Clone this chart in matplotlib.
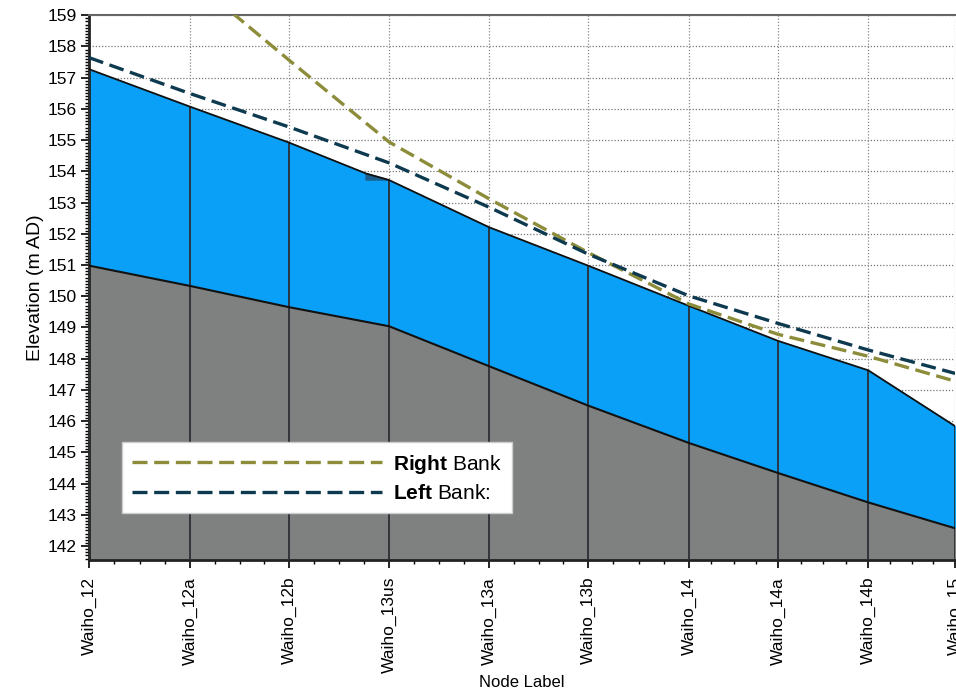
import numpy as np
import matplotlib.pyplot as plt
from matplotlib.ticker import MultipleLocator, FixedLocator

plt.rcParams['font.family'] = ['Liberation Sans', 'DejaVu Sans']
plt.rcParams['mathtext.fontset'] = 'custom'
plt.rcParams['mathtext.rm'] = 'Liberation Sans'
plt.rcParams['mathtext.bf'] = 'Liberation Sans:bold'

# node labels and chainage along the reach
nodes = ['Waiho_12', 'Waiho_12a', 'Waiho_12b', 'Waiho_13us', 'Waiho_13a',
         'Waiho_13b', 'Waiho_14', 'Waiho_14a', 'Waiho_14b', 'Waiho_15']
chainage = [0, 101, 200, 300, 400, 499, 600, 689, 779, 866]

# bed level (m AD)
bed = [150.98, 150.33, 149.65, 149.04, 147.76, 146.50, 145.30, 144.34, 143.40, 142.57]

# water surface (extra point just upstream of 13us structure)
ws_ch = [0, 101, 200, 277, 300, 400, 499, 600, 689, 779, 866]
ws = [157.27, 156.07, 154.92, 153.93, 153.72, 152.21, 150.98, 149.69, 148.57, 147.63, 145.84]

# banks
right_bank = [161.5, 160.2, 157.56, 154.94, 153.12, 151.40, 149.75, 148.78, 148.08, 147.28]
left_bank = [157.64, 156.49, 155.42, 154.27, 152.85, 151.35, 150.01, 149.13, 148.28, 147.53]

# small structure at 13us
struct_x = [277, 300, 277]
struct_y = [153.93, 153.72, 153.72]

ymin, ymax = 141.55, 159.0

fig = plt.figure(figsize=(9.56, 6.89), dpi=100)
ax = fig.add_axes([0.0931, 0.187, 0.906, 0.791])

ws_at_nodes = np.interp(chainage, ws_ch, ws)

ax.fill_between(ws_ch, ymin, ws, color='#0aa0f8', zorder=1)
ax.fill_between(chainage, ymin, bed, color='#7f8181', zorder=2)
ax.fill(struct_x, struct_y, color='#1b5f8f', zorder=3)
ax.plot(ws_ch, ws, color='#111111', lw=1.3, zorder=4)
ax.plot(chainage, bed, color='#111111', lw=1.5, zorder=4)

# grid
for y in range(142, 160):
    ax.axhline(y, color='#777777', ls=(0, (1, 1.5)), lw=0.9, zorder=0.5)
for x in chainage:
    ax.axvline(x, color='#888888', ls=(0, (1, 1.5)), lw=0.9, zorder=0.5)
ax.vlines(chainage, ymin, ws_at_nodes, color='#2b2f33', lw=1.3, zorder=3)

ax.plot(chainage, right_bank, color='#8c8c3a', lw=2.4, ls=(0, (4.5, 2)),
        label=r'$\mathbf{Right}$ Bank', zorder=5)
ax.plot(chainage, left_bank, color='#0e3a50', lw=2.4, ls=(0, (4.5, 2)),
        label=r'$\mathbf{Left}$ Bank:', zorder=5)

ax.set_xlim(0, 866)
ax.set_ylim(ymin, ymax)
ax.xaxis.set_major_locator(FixedLocator(chainage))
ax.set_xticklabels(nodes, rotation=90, fontsize=12.5)
minor = []
for a, b in zip(chainage[:-1], chainage[1:]):
    minor += list(np.linspace(a, b, 5)[1:-1])
ax.xaxis.set_minor_locator(FixedLocator(minor))
ax.yaxis.set_major_locator(MultipleLocator(1))
ax.yaxis.set_minor_locator(MultipleLocator(0.1))
ax.tick_params(axis='y', labelsize=12.5, length=6, width=1.2, pad=3)
ax.tick_params(axis='x', length=6, width=1.2, pad=6)
ax.tick_params(which='minor', length=3, width=1.0)

ax.set_xlabel('Node Label', fontsize=12, labelpad=1)
ax.set_ylabel('Elevation (m AD)', fontsize=14, labelpad=2)

for s in ['left', 'bottom']:
    ax.spines[s].set_linewidth(2.0)
    ax.spines[s].set_color('#222222')
ax.spines['top'].set_color('#666666')
ax.spines['top'].set_linewidth(1.5)
ax.spines['right'].set_visible(False)

leg = ax.legend(loc='lower left', bbox_to_anchor=(0.038, 0.086),
                fontsize=15, handlelength=12, frameon=True, fancybox=False,
                borderpad=0.5, labelspacing=0.4, handletextpad=0.5,
                borderaxespad=0)
leg.get_frame().set_edgecolor('#cccccc')
leg.get_frame().set_alpha(1)
leg.set_zorder(10)

plt.savefig('out.png', dpi=100)
